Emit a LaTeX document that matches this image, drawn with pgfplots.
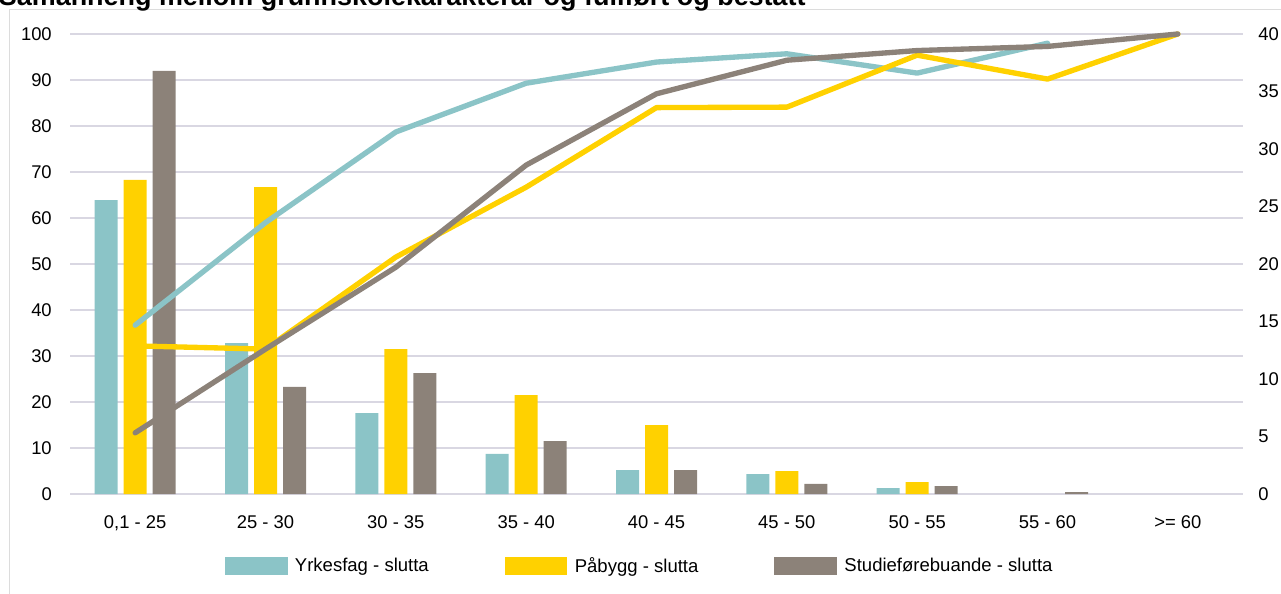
\documentclass[border=0pt]{standalone}
\usepackage{pgfplots}
\pgfplotsset{compat=1.18}
\usepackage{fontspec}
\setmainfont{Liberation Sans}
\definecolor{cteal}{RGB}{139,196,199}
\definecolor{cyel}{RGB}{255,209,0}
\definecolor{cgrey}{RGB}{140,130,121}
\definecolor{cgrid}{RGB}{217,215,226}
\definecolor{cframe}{RGB}{220,220,220}
\begin{document}
\begin{tikzpicture}
\draw[cframe, line width=0.75pt] (6.75pt,-5pt) -- (6.75pt,437.25pt) -- (970pt,437.25pt);
\node[anchor=base west, inner sep=0pt, font=\bfseries\fontsize{20.2}{23}\selectfont] at (-1pt,440.25pt) {Samanheng mellom grunnskolekarakterar og fullført og bestått};
\begin{axis}[
  at={(52.5pt,74.25pt)}, anchor=south west,
  scale only axis, width=879.75pt, height=345pt,
  xmin=-0.5, xmax=8.5, ymin=0, ymax=100,
  clip=false,
  axis line style={draw=none}, tick style={draw=none}, major tick length=0pt,
  ytick={0,10,...,100},
  ymajorgrids, grid style={cgrid, line width=1.3pt},
  xtick={0,...,8},
  xticklabels={{0,1 - 25},{25 - 30},{30 - 35},{35 - 40},{40 - 45},{45 - 50},{50 - 55},{55 - 60},{{>}= 60}},
  tick label style={font=\fontsize{13.8}{16}\selectfont},
  /pgf/number format/assume math mode=true,
  yticklabel style={inner sep=0pt, anchor=east, xshift=-13.5pt},
  xticklabel style={inner sep=0pt, anchor=north, yshift=-16pt},
  legend style={at={(0.486,-0.1565)}, anchor=center, draw=none, fill=none,
    legend columns=3, font=\fontsize{13.9}{16}\selectfont,
    /tikz/every odd column/.append style={column sep=3.5pt},
    /tikz/every even column/.append style={column sep=55pt}},
  legend image code/.code={\fill[#1] (0pt,-6.75pt) rectangle (47pt,6.75pt);},
]
\addplot[ybar, bar width=17.25pt, bar shift=-21.75pt, fill=cteal, draw=none] coordinates {
(0,63.9) (1,32.8) (2,17.6) (3,8.7) (4,5.2) (5,4.3) (6,1.3)};
\addlegendentry{Yrkesfag - slutta}
\addplot[ybar, bar width=17.25pt, bar shift=0pt, fill=cyel, draw=none] coordinates {
(0,68.3) (1,66.7) (2,31.5) (3,21.5) (4,15.0) (5,5.0) (6,2.6)};
\addlegendentry{Påbygg - slutta}
\addplot[ybar, bar width=17.25pt, bar shift=21.75pt, fill=cgrey, draw=none] coordinates {
(0,92.0) (1,23.3) (2,26.3) (3,11.5) (4,5.2) (5,2.2) (6,1.7) (7,0.4)};
\addlegendentry{Studieførebuande - slutta}
\addplot[forget plot, sharp plot, cteal, line width=4pt, line cap=round, line join=round] coordinates {
(0,36.7) (1,59.0) (2,78.7) (3,89.3) (4,93.9) (5,95.7) (6,91.5) (7,98.0)};
\addplot[forget plot, sharp plot, cyel, line width=4pt, line cap=round, line join=round] coordinates {
(0,32.2) (1,31.5) (2,51.5) (3,66.7) (4,84.0) (5,84.1) (6,95.4) (7,90.2) (8,100)};
\addplot[forget plot, sharp plot, cgrey, line width=4pt, line cap=round, line join=round] coordinates {
(0,13.3) (1,31.5) (2,49.3) (3,71.5) (4,87.0) (5,94.3) (6,96.4) (7,97.3) (8,100)};
\end{axis}
\begin{axis}[
  at={(52.5pt,74.25pt)}, anchor=south west,
  scale only axis, width=879.75pt, height=345pt,
  xmin=-0.5, xmax=8.5, ymin=0, ymax=40,
  hide x axis, axis y line*=right,
  axis line style={draw=none}, tick style={draw=none}, major tick length=0pt,
  ytick={0,5,...,40},
  tick label style={font=\fontsize{13.8}{16}\selectfont},
  /pgf/number format/assume math mode=true,
  yticklabel style={inner sep=0pt, anchor=west, xshift=11.25pt},
]
\addplot[draw=none] coordinates {(0,0)};
\end{axis}
\pgfresetboundingbox
\useasboundingbox (0,0) rectangle (960.75pt,444.75pt);
\end{tikzpicture}
\end{document}
